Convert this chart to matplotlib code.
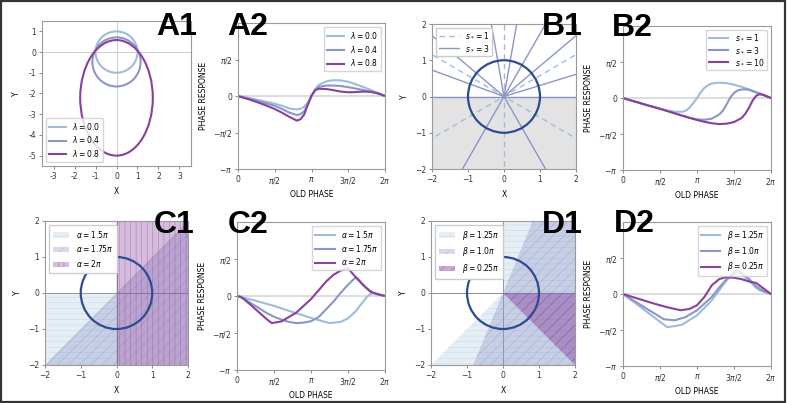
import numpy as np
import matplotlib.pyplot as plt
from matplotlib.patches import Ellipse, Circle, Wedge, Rectangle, Patch
from matplotlib.lines import Line2D

plt.rcParams['font.family'] = 'DejaVu Sans'
plt.rcParams['mathtext.fontset'] = 'dejavusans'
plt.rcParams['hatch.linewidth'] = 0.4

PI = np.pi
c_light = '#9ebcda'
c_mid = '#8c96c6'
c_purple = '#88419d'
c_circle = '#2f4b8f'
colors = [c_light, c_mid, c_purple]

# ---- A1: Grenzzyklen (Ellipsen) ----
a1_labels = ['$\\lambda = 0.0$', '$\\lambda = 0.4$', '$\\lambda = 0.8$']
a1_cy = [0.0, -0.475, -2.21]
a1_halfw = [1.0, 1.15, 1.73]
a1_halfh = [1.0, 1.185, 2.79]

# ---- A2: Phasenantwort (x in Einheiten von pi) ----
a2_x = [0, 0.1, 0.2, 0.3, 0.4, 0.5, 0.6, 0.7, 0.8, 0.85, 0.9, 0.95, 1.0,
        1.05, 1.1, 1.2, 1.3, 1.4, 1.5, 1.6, 1.7, 1.8, 1.9, 2.0]
a2_y = [
    [0, -0.06, -0.12, -0.19, -0.26, -0.33, -0.42, -0.54, -0.58, -0.55, -0.46, -0.28, -0.02,
     0.30, 0.48, 0.63, 0.68, 0.67, 0.61, 0.51, 0.39, 0.27, 0.13, 0],
    [0, -0.08, -0.15, -0.24, -0.33, -0.42, -0.56, -0.72, -0.82, -0.78, -0.66, -0.36, 0.0,
     0.27, 0.39, 0.45, 0.45, 0.43, 0.38, 0.32, 0.26, 0.19, 0.11, 0],
    [0, -0.1, -0.2, -0.31, -0.43, -0.56, -0.72, -0.9, -1.06, -1.0, -0.8, -0.38, 0.02,
     0.25, 0.31, 0.30, 0.25, 0.19, 0.16, 0.17, 0.19, 0.18, 0.12, 0],
]

# ---- B1: Isochronen ----
b1_labels = ['$s_* = 1$', '$s_* = 3$']
b1_rays_s1 = [30, 90, 150]          # Linien durch den Ursprung (Grad)
b1_rays_s3 = [0, 17, 40, 60, 80, 100, 140, 160, 180, 240, 300]

# ---- B2 ----
b2_labels = ['$s_* = 1$', '$s_* = 3$', '$s_* = 10$']
b2_x = [
    [0, 0.1, 0.2, 0.3, 0.4, 0.5, 0.6, 0.7, 0.8, 0.85, 0.9, 0.95, 1.0, 1.05, 1.1, 1.15, 1.2,
     1.3, 1.4, 1.5, 1.6, 1.7, 1.8, 1.9, 2.0],
    [0, 0.1, 0.2, 0.3, 0.4, 0.5, 0.6, 0.7, 0.8, 0.9, 1.0, 1.1, 1.2, 1.3, 1.35, 1.4, 1.45,
     1.5, 1.55, 1.6, 1.65, 1.7, 1.8, 1.9, 2.0],
    [0, 0.1, 0.2, 0.3, 0.4, 0.5, 0.6, 0.7, 0.8, 0.9, 1.0, 1.1, 1.2, 1.3, 1.4, 1.5, 1.6,
     1.65, 1.7, 1.75, 1.8, 1.85, 1.9, 2.0],
]
b2_y = [
    [0, -0.1, -0.19, -0.29, -0.38, -0.47, -0.55, -0.6, -0.6, -0.55, -0.42, -0.22, 0.0, 0.25,
     0.44, 0.56, 0.63, 0.67, 0.65, 0.58, 0.49, 0.38, 0.26, 0.14, 0],
    [0, -0.1, -0.19, -0.29, -0.38, -0.47, -0.57, -0.67, -0.77, -0.86, -0.93, -0.95, -0.9,
     -0.72, -0.55, -0.28, 0.02, 0.22, 0.33, 0.37, 0.38, 0.36, 0.24, 0.12, 0],
    [0, -0.1, -0.19, -0.29, -0.38, -0.47, -0.57, -0.67, -0.77, -0.87, -0.96, -1.04, -1.1,
     -1.14, -1.12, -1.05, -0.88, -0.7, -0.44, -0.12, 0.1, 0.17, 0.13, 0],
]

# ---- C1: Reizregionen (Keile, Grad) ----
c1_labels = ['$\\alpha = 1.5\\pi$', '$\\alpha = 1.75\\pi$', '$\\alpha = 2\\pi$']
c1_theta1 = [180, 225, 270]
c1_theta2 = [270, 405, 450]
c1_alpha = [0.25, 0.35, 0.35]
c1_hatch = ['---', '///', '|||']

# ---- C2 ----
c2_x = [
    [0, 0.05, 0.1, 0.25, 0.5, 0.75, 1.0, 1.25, 1.4, 1.5, 1.6, 1.7, 1.75, 1.8, 1.85, 1.9, 2.0],
    [0, 0.05, 0.1, 0.2, 0.3, 0.4, 0.5, 0.6, 0.7, 0.8, 0.9, 1.0, 1.1, 1.2, 1.3, 1.4, 1.5,
     1.61, 1.75, 1.85, 2.0],
    [0, 0.05, 0.1, 0.2, 0.3, 0.4, 0.47, 0.6, 0.8, 1.0, 1.1, 1.2, 1.3, 1.4, 1.5, 1.6, 1.7,
     1.8, 1.9, 2.0],
]
c2_y = [
    [0, -0.03, -0.08, -0.2, -0.42, -0.68, -0.93, -1.15, -1.1, -0.95, -0.66, -0.26, -0.06,
     0.08, 0.12, 0.1, 0],
    [0, -0.04, -0.13, -0.33, -0.52, -0.72, -0.88, -1.0, -1.1, -1.15, -1.13, -1.07, -0.9,
     -0.58, -0.25, 0.13, 0.48, 0.81, 0.33, 0.12, 0],
    [0, -0.04, -0.15, -0.42, -0.7, -0.98, -1.15, -1.08, -0.71, -0.13, 0.23, 0.6, 0.89,
     1.08, 1.18, 0.81, 0.48, 0.19, 0.07, 0],
]

# ---- D1 ----
d1_labels = ['$\\beta = 1.25\\pi$', '$\\beta = 1.0\\pi$', '$\\beta = 0.25\\pi$']
d1_theta1 = [225, -112.5, -45]
d1_theta2 = [450, 67.5, 0]
d1_alpha = [0.25, 0.35, 0.45]
d1_hatch = ['---', '///', '///']

# ---- D2 ----
d2_x = [
    [0, 0.2, 0.4, 0.6, 0.8, 1.0, 1.2, 1.3, 1.4, 1.5, 1.55, 1.7, 1.8, 1.85, 1.9, 2.0],
    [0, 0.2, 0.4, 0.55, 0.7, 0.85, 1.0, 1.2, 1.3, 1.4, 1.5, 1.55, 1.7, 1.8, 1.9, 2.0],
    [0, 0.2, 0.4, 0.6, 0.78, 0.9, 1.0, 1.1, 1.2, 1.3, 1.4, 1.5, 1.6, 1.7, 1.8, 2.0],
]
d2_y = [
    [0, -0.48, -0.97, -1.45, -1.34, -0.93, -0.28, 0.16, 0.6, 0.86, 0.98, 0.6, 0.26, 0.16,
     0.1, 0],
    [0, -0.4, -0.8, -1.1, -1.15, -1.0, -0.71, -0.13, 0.28, 0.65, 0.96, 1.06, 0.67, 0.33,
     0.13, 0],
    [0, -0.2, -0.4, -0.58, -0.71, -0.65, -0.49, -0.13, 0.38, 0.65, 0.74, 0.71, 0.65, 0.55,
     0.48, 0],
]

W, H = 787, 403
fig = plt.figure(figsize=(W / 100, H / 100), dpi=100)


def achse(x0, y0, x1, y1):
    ax = fig.add_axes([x0 / W, 1 - y1 / H, (x1 - x0) / W, (y1 - y0) / H])
    for s in ax.spines.values():
        s.set_color('#9a9a9a')
        s.set_linewidth(0.8)
    ax.tick_params(labelsize=5.5, length=2.5, width=0.6, color='#777777',
                   labelcolor='#333333', pad=1.5)
    return ax


def phasen_achse(ax):
    ax.axhline(0, color='#d5d5d5', lw=1.2, zorder=0)
    ax.set_xlim(0, 2 * PI)
    ax.set_ylim(-PI, PI)
    ax.set_xticks([0, PI / 2, PI, 3 * PI / 2, 2 * PI])
    ax.set_xticklabels(['0', '$\\pi/2$', '$\\pi$', '$3\\pi/2$', '$2\\pi$'])
    ax.set_yticks([-PI, -PI / 2, 0, PI / 2])
    ax.set_yticklabels(['$-\\pi$', '$-\\pi/2$', '0', '$\\pi/2$'])
    ax.set_xlabel('OLD PHASE', fontsize=5.5, labelpad=3)
    ax.set_ylabel('PHASE RESPONSE', fontsize=5.5, labelpad=4)


def kreis_achse(ax, linecol='#8a8a8a'):
    ax.set_xlim(-2, 2)
    ax.set_ylim(-2, 2)
    ax.set_xticks([-2, -1, 0, 1, 2])
    ax.set_yticks([-2, -1, 0, 1, 2])
    ax.axhline(0, color=linecol, lw=0.7, zorder=1)
    ax.axvline(0, color=linecol, lw=0.7, zorder=1)
    ax.add_patch(Circle((0, 0), 1, fill=False, ec=c_circle, lw=1.6, zorder=5))
    ax.set_xlabel('X', fontsize=5.5, labelpad=4.5)
    ax.set_ylabel('Y', fontsize=5.5, labelpad=4.5)


# A1
ax = achse(42, 21, 191, 166)
ax.axhline(0, color='#cccccc', lw=0.7, zorder=0)
ax.axvline(0, color='#cccccc', lw=0.7, zorder=0)
for i in range(3):
    ax.add_patch(Ellipse((0, a1_cy[i]), 2 * a1_halfw[i], 2 * a1_halfh[i], fill=False,
                         ec=colors[i], lw=1.5))
ax.set_xlim(-3.55, 3.55)
ax.set_ylim(-5.5, 1.5)
ax.set_xticks(range(-3, 4))
ax.set_xticklabels([str(v) for v in range(-3, 4)])
ax.set_yticks(range(-5, 2))
ax.set_yticklabels([str(v) for v in range(-5, 2)])
ax.set_xlabel('X', fontsize=5.5, labelpad=4.5)
ax.set_ylabel('Y', fontsize=5.5, labelpad=5.5)
ax.legend([Line2D([], [], color=c, lw=1.5) for c in colors], a1_labels, loc='lower left',
          fontsize=5.5, handlelength=2.2, borderpad=0.4, labelspacing=0.35)

# A2
ax = achse(238, 23, 385, 169)
phasen_achse(ax)
for i in range(3):
    ax.plot(np.array(a2_x) * PI, a2_y[i], color=colors[i], lw=1.5, label=a1_labels[i])
ax.legend(loc='upper right', fontsize=5.5, handlelength=2.2, borderpad=0.4, labelspacing=0.35)

# B1
ax = achse(432, 24, 576, 169)
ax.set_xlim(-2, 2)
ax.set_ylim(-2, 2)
ax.axhspan(-2, 0, color='#e3e3e3', zorder=0)
for a in b1_rays_s1:
    t = np.deg2rad(a)
    ax.plot([-3 * np.cos(t), 3 * np.cos(t)], [-3 * np.sin(t), 3 * np.sin(t)],
            color=c_light, lw=1.0, ls=(0, (4, 3)), zorder=2)
for a in b1_rays_s3:
    t = np.deg2rad(a)
    ax.plot([0, 3 * np.cos(t)], [0, 3 * np.sin(t)], color=c_mid, lw=1.0, zorder=3)
ax.add_patch(Circle((0, 0), 1, fill=False, ec=c_circle, lw=1.6, zorder=5))
ax.set_xticks([-2, -1, 0, 1, 2])
ax.set_yticks([-2, -1, 0, 1, 2])
ax.set_xlabel('X', fontsize=5.5, labelpad=4.5)
ax.set_ylabel('Y', fontsize=5.5, labelpad=4.5)
ax.legend([Line2D([], [], color=c_light, lw=1.0, ls=(0, (4, 3))),
           Line2D([], [], color=c_mid, lw=1.0)], b1_labels, loc='upper left',
          fontsize=5.5, handlelength=2.6, borderpad=0.4, labelspacing=0.35, framealpha=1)

# B2
ax = achse(623, 26, 771, 170)
phasen_achse(ax)
for i in range(3):
    ax.plot(np.array(b2_x[i]) * PI, b2_y[i], color=colors[i], lw=1.5, label=b2_labels[i])
ax.legend(loc='upper right', fontsize=5.5, handlelength=2.6, borderpad=0.4, labelspacing=0.35)

# C1
ax = achse(45, 221, 188, 365)
kreis_achse(ax)
handles = []
for i in range(3):
    fc = plt.matplotlib.colors.to_rgba(colors[i], c1_alpha[i])
    ec = plt.matplotlib.colors.to_rgba(colors[i], min(1, c1_alpha[i] + 0.15))
    ax.add_patch(Wedge((0, 0), 3, c1_theta1[i], c1_theta2[i], fc=fc, ec=ec, lw=0,
                       hatch=c1_hatch[i], zorder=2))
    handles.append(Patch(fc=fc, ec=ec, lw=0, hatch=c1_hatch[i]))
ax.legend(handles, c1_labels, loc='upper left', fontsize=5.5, handlelength=2.2,
          borderpad=0.5, labelspacing=0.5, framealpha=1)

# C2
ax = achse(237, 222, 385, 370)
phasen_achse(ax)
for i in range(3):
    ax.plot(np.array(c2_x[i]) * PI, c2_y[i], color=colors[i], lw=1.5, label=c1_labels[i])
ax.legend(loc='upper right', fontsize=5.5, handlelength=2.6, borderpad=0.4, labelspacing=0.35)

# D1
ax = achse(431, 221, 575, 365)
kreis_achse(ax)
handles = []
for i in range(3):
    fc = plt.matplotlib.colors.to_rgba(colors[i], d1_alpha[i])
    ec = plt.matplotlib.colors.to_rgba(colors[i], min(1, d1_alpha[i] + 0.15))
    ax.add_patch(Wedge((0, 0), 3, d1_theta1[i], d1_theta2[i], fc=fc, ec=ec, lw=0,
                       hatch=d1_hatch[i], zorder=2))
    handles.append(Patch(fc=fc, ec=ec, lw=0, hatch=d1_hatch[i]))
ax.legend(handles, d1_labels, loc='upper left', fontsize=5.5, handlelength=2.2,
          borderpad=0.5, labelspacing=0.5, framealpha=1)

# D2
ax = achse(623, 222, 771, 366)
phasen_achse(ax)
for i in range(3):
    ax.plot(np.array(d2_x[i]) * PI, d2_y[i], color=colors[i], lw=1.5, label=d1_labels[i])
ax.legend(loc='upper right', fontsize=5.5, handlelength=2.6, borderpad=0.4, labelspacing=0.35)

# Panel-Beschriftungen
panel_namen = ['A1', 'A2', 'B1', 'B2', 'C1', 'C2', 'D1', 'D2']
panel_pos = [(156, 35), (227, 35), (542, 35), (612, 36), (154, 233), (228, 233),
             (542, 233), (614, 232)]
for name, (px, py) in zip(panel_namen, panel_pos):
    fig.text(px / W, 1 - py / H, name, fontsize=23, fontweight='bold',
             family='Liberation Sans', ha='left', va='baseline', zorder=10)

# Rahmen um die Abbildung
fig.add_artist(Rectangle((0.001, 0.002), 0.997, 0.995, transform=fig.transFigure,
                         fill=False, ec='#333333', lw=1.6))

fig.savefig('out.png', dpi=100)
